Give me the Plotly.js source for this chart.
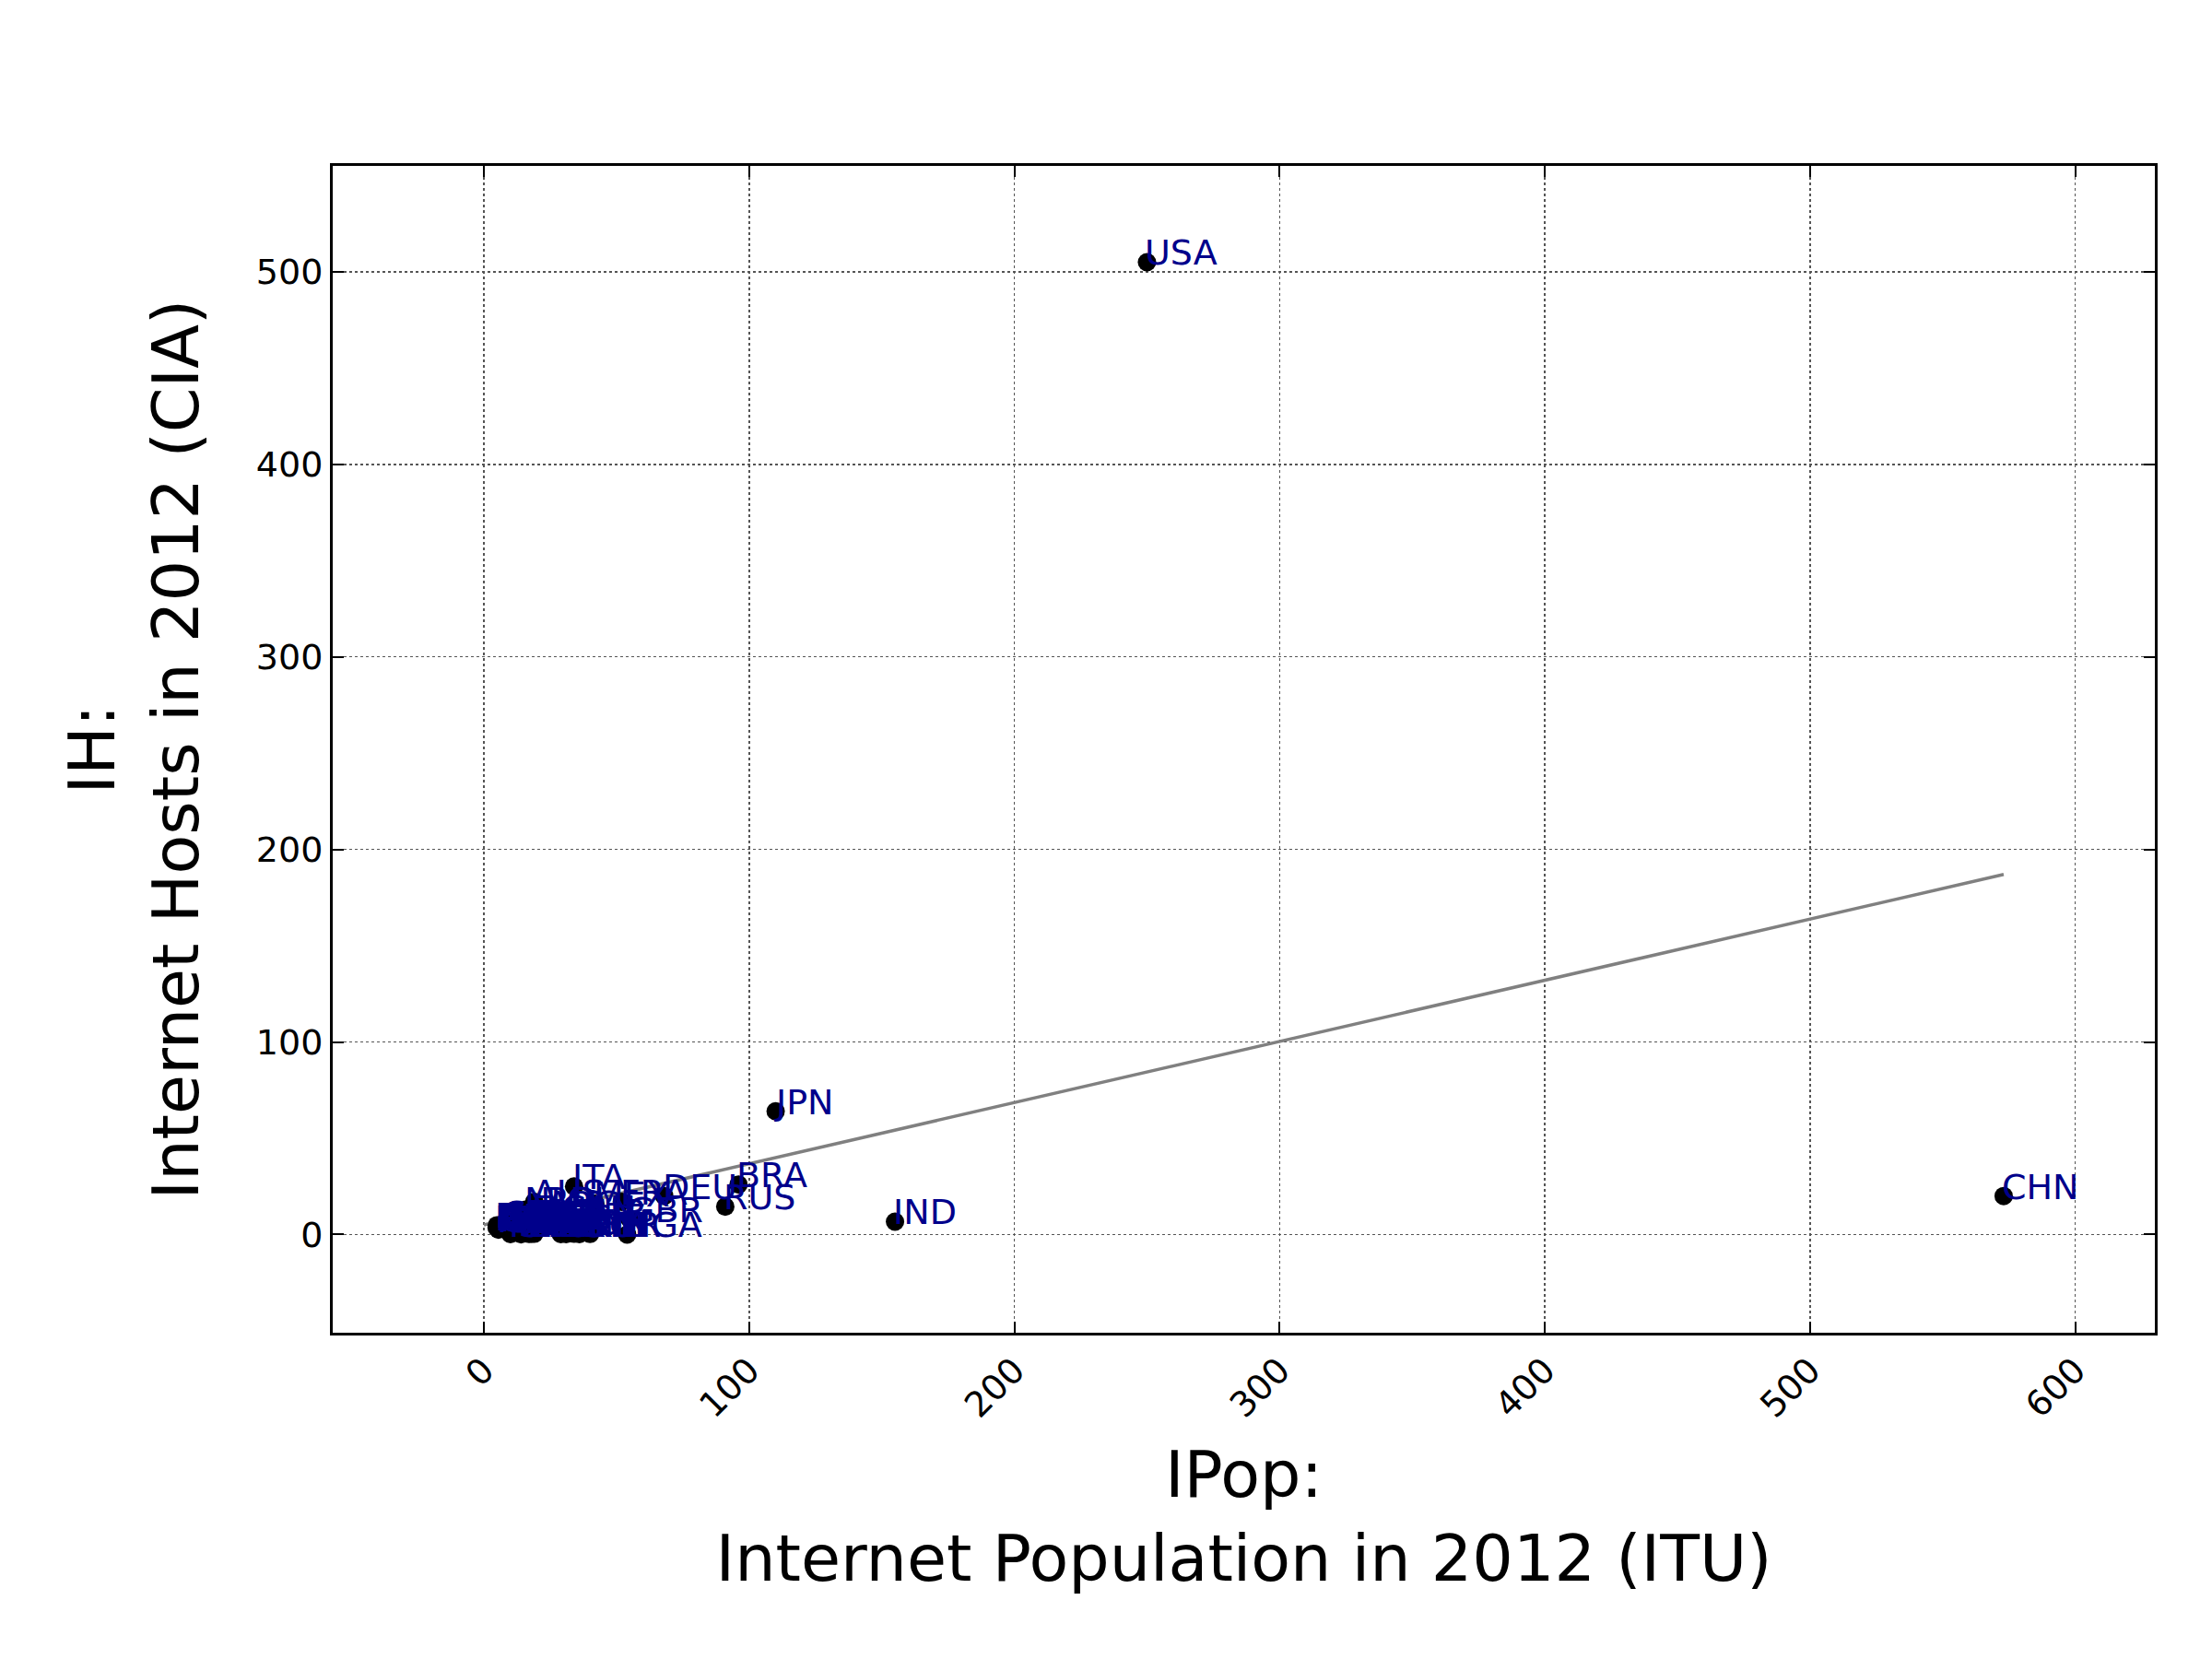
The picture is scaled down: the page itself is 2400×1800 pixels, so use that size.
<!DOCTYPE html>
<html>
<head>
<meta charset="utf-8">
<script src="https://cdn.plot.ly/plotly-3.0.1.min.js"></script>
<style>body{margin:0;background:#fff}#plot{width:2400px;height:1800px}</style>
</head>
<body>
<div id="plot"></div>
<script>
// country codes, internet population (millions), internet hosts (millions)
const codes = ["USA","CHN","JPN","BRA","RUS","IND","DEU","ITA","GBR","FRA","MEX","KOR","NGA","IRN","TUR","ESP","CAN","ARG","POL","AUS","NLD","COL","IDN","EGY","VNM","PHL","MYS","THA","UKR","ZAF","SAU","PAK","MAR","VEN","CHL","SWE","BEL","CHE","AUT","ROU","PER","CZE","TWN","HUN","PRT","GRC","FIN","DNK","NOR","ISR"];
const ipop = [250,573,110,96,91,155,68,34,55,52,42,40,54,36,35,32,30,24,24,19,16,21,39,29,31,34,18,18,19,20,14,19,17,12,11,8.6,7.4,6.8,6.7,10,10,7.8,18,6.6,6.3,6.2,4.9,5.1,4.8,5.5];
const ihost = [505,20,64,26,14.5,6.7,20,25,8,17,16,0.3,0,0.2,7,4,8.7,11,13,17,13,4.5,1.3,0.2,0.2,0.4,0.4,3.4,2,4.8,0.1,0.4,0.3,1,2,5.9,5.2,5.3,3.5,2.7,0.2,4.1,6.3,3.1,3.7,3.2,4.8,4.3,3.6,2.5];
const fitX = [0,573];
const fitY = [5,187];

const font = "DejaVu Sans, sans-serif";
const pts = {
  x: ipop, y: ihost, mode: "markers", type: "scatter",
  marker: {color: "black", size: 20},
  cliponaxis: false, hoverinfo: "none"
};
const fit = {
  x: fitX, y: fitY, mode: "lines", type: "scatter",
  line: {color: "gray", width: 3.5}, hoverinfo: "none"
};
const labels = codes.map((c, i) => ({
  x: ipop[i], y: ihost[i], text: c, showarrow: false,
  xanchor: "left", yanchor: "bottom", xshift: -4, yshift: -14,
  font: {family: font, size: 38, color: "#00008b"}
}));
const ax = {
  showline: true, mirror: "ticks", linecolor: "black", linewidth: 3,
  ticks: "inside", ticklen: 12, tickwidth: 2, tickcolor: "black",
  showgrid: true, gridcolor: "#555", griddash: "dot", gridwidth: 1.5,
  zeroline: false, tickfont: {family: font, size: 38, color: "black"}
};
const layout = {
  showlegend: false,
  paper_bgcolor: "white", plot_bgcolor: "white",
  margin: {l: 361, r: 62, t: 180, b: 354},
  annotations: labels,
  xaxis: Object.assign({}, ax, {
    range: [-57, 630], tickvals: [0,100,200,300,400,500,600], tickangle: -45,
    title: {text: "IPop:<br>Internet Population in 2012 (ITU)", font: {family: font, size: 70, color: "black"}, standoff: 30}
  }),
  yaxis: Object.assign({}, ax, {
    range: [-51, 555], tickvals: [0,100,200,300,400,500],
    title: {text: "IH:<br>Internet Hosts in 2012 (CIA)", font: {family: font, size: 70, color: "black"}, standoff: 40}
  })
};
Plotly.newPlot("plot", [fit, pts], layout, {staticPlot: true});
</script>
</body>
</html>
